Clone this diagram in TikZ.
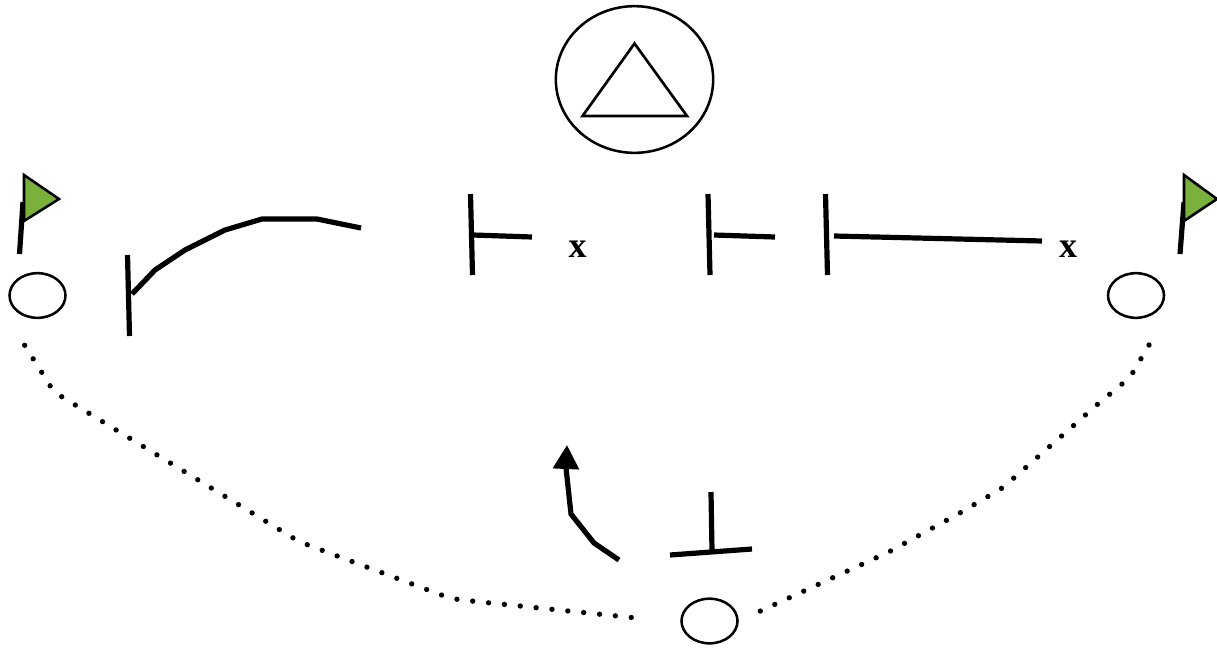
\documentclass[tikz,border=0pt]{standalone}
\usepackage{fontspec}
\usepackage{xcolor}
\setmainfont{Liberation Serif}
\usetikzlibrary{shapes.geometric, arrows.meta, calc}
\definecolor{cFlag}{RGB}{122,176,60}
\tikzset{
	basecirc/.style ={ellipse, draw=black, line width=1.9pt, minimum width=42pt, minimum height=33.5pt, inner sep=0pt},
	routeline/.style={line width=3.9pt, line join=miter},
	barline/.style  ={line width=3.9pt},
	pathdots/.style ={line width=4pt, line cap=round, dash pattern=on 0pt off 11.95pt},
	flagtip/.style  ={draw=black, line width=1.9pt, fill=cFlag, line join=miter},
	mark x/.style   ={font=\fontsize{27}{27}\selectfont\bfseries, inner sep=0pt},
}
\begin{document}
\begin{tikzpicture}[x=0.75pt, y=-0.75pt]
	\useasboundingbox (0,0) rectangle (1217,647);
	% bases
	\node[basecirc] (baseL) at (37.5,295.5) {};
	\node[basecirc] (baseR) at (1136,295.5) {};
	\node[basecirc] (baseB) at (709.5,621) {};
	% top circle with triangle
	\node[ellipse, draw=black, line width=1.9pt, minimum width=118pt, minimum height=110pt, inner sep=0pt] (topcirc) at (634.5,79.5) {};
	\draw[line width=2pt, line join=miter] (634.5,43.5) -- (687,116) -- (582.5,116) -- cycle;
	% flags
	\draw[barline] (23,202) -- (19.5,254);
	\draw[flagtip] (24,175) -- (59,199) -- (24,221) -- cycle;
	\draw[barline] (1184,202) -- (1180,254);
	\draw[flagtip] (1184,175) -- (1217,199) -- (1184,221) -- cycle;
	% left route
	\draw[barline] (127.5,255) -- (129.5,336);
	\draw[routeline] (132,294) -- (155,270) -- (185,250) -- (225,230) -- (262,219) -- (317,219) -- (361,228);
	% middle bars
	\draw[barline] (470.5,194) -- (472.5,275);
	\draw[barline] (473,235) -- (532,237);
	\node[mark x] (markA) at (577.5,249) {x};
	\draw[barline] (708,194) -- (710,275);
	\draw[barline] (714,235) -- (775,237);
	\draw[barline] (825.5,194) -- (827.5,275);
	\draw[barline] (834,236) -- (1042,241);
	\node[mark x] (markB) at (1068,249) {x};
	% bottom route
	\draw[routeline, -{Triangle[length=18pt, width=19pt]}] (619,560) -- (594,543) -- (571,514) -- (566,468) -- (567,445);
	\draw[barline] (711,492) -- (712,551);
	\draw[barline] (670,555) -- (752,549);
	% dotted legs
	\draw[pathdots] (24.7,345.3) -- (50.3,386) -- (61.7,396.7) -- (293.7,538.3) -- (308,545) -- (443.3,595.7) -- (458.7,599.7) -- (633.7,617.7);
	\draw[pathdots] (1149,345) -- (1132.7,372.7) -- (1121.7,384.3) -- (1097,404.7) -- (1073,426) -- (1013,478.7) -- (1000.7,489) -- (959.3,513.3) -- (903.3,544) -- (889.3,551.7) -- (758.3,612);
\end{tikzpicture}
\end{document}
